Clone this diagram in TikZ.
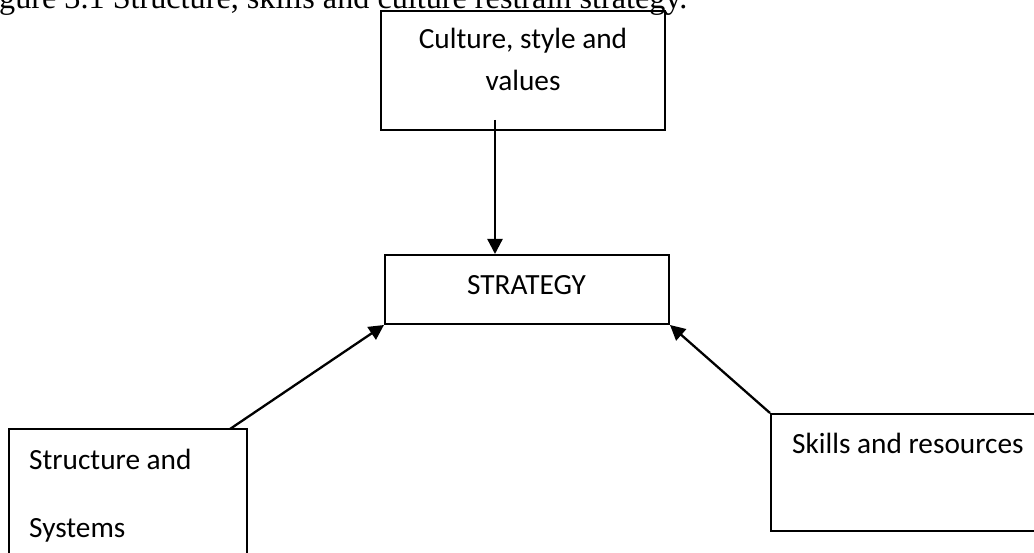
\documentclass[tikz,border=0pt]{standalone}
\usepackage{fontspec}
\setmainfont{Liberation Serif}
\newfontfamily\boxfont{Carlito}
\usetikzlibrary{arrows.meta,calc}
\begin{document}
\begin{tikzpicture}[x=1pt,y=-1pt,
  box/.style={draw,line width=2pt,rectangle,inner sep=0pt},
  lbl/.style={inner sep=0pt,font=\boxfont\fontsize{29.3}{34}\selectfont},
  arr/.style={line width=2.3pt,-{Triangle[length=15pt,width=15pt]}}]
\useasboundingbox (0,0) rectangle (1034,553);
% caption line
\node[anchor=base west,inner sep=0pt,font=\fontsize{32.2}{36}\selectfont] (cap) at (-1,9) {gure 3.1 Structure, skills and culture restrain strategy.};
% boxes
\node[box,minimum width=284pt,minimum height=119pt] (cult) at (523,70.5) {};
\node[box,minimum width=284pt,minimum height=69pt] (strat) at (527,289.5) {};
\node[box,minimum width=238pt,minimum height=140pt] (struct) at (128,499) {};
\node[box,minimum width=280pt,minimum height=117pt] (skill) at (911,472.5) {};
% box texts
\node[lbl,anchor=base] (t1) at (523,49) {Culture, style and};
\node[lbl,anchor=base] (t2) at (523,91) {values};
\node[lbl,anchor=base] (t3) at (526.5,295) {STRATEGY};
\node[lbl,anchor=base west] (t4) at (29,469) {Structure and};
\node[lbl,anchor=base west] (t5) at (29,537) {Systems};
\node[lbl,anchor=base west] (t6) at (792,453) {Skills and resources};
% connectors
\coordinate (cs) at (495,120);
\coordinate (ls) at (230,429);
\draw[arr] (cs) -- (cs |- strat.north);
\draw[arr] (ls) -- (strat.south west);
\draw[arr] (skill.north west) -- (strat.south east);
\end{tikzpicture}
\end{document}
